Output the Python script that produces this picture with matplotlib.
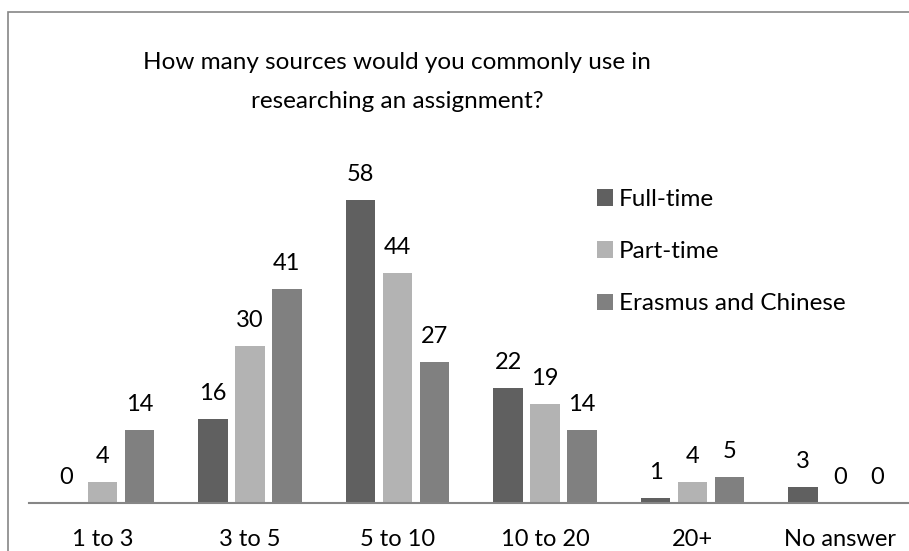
import numpy as np
import matplotlib
matplotlib.use("Agg")
from matplotlib import pyplot as plt
from matplotlib.patches import Rectangle

plt.rcParams['font.family'] = ['Lato', 'DejaVu Sans']

categories = ['1 to 3', '3 to 5', '5 to 10', '10 to 20', '20+', 'No answer']
series_names = ['Full-time', 'Part-time', 'Erasmus and Chinese']
full_time = [0, 16, 58, 22, 1, 3]
part_time = [4, 30, 44, 19, 4, 0]
erasmus = [14, 41, 27, 14, 5, 0]
colors = ['#606060', '#b3b3b3', '#808080']

W, H = 909, 551
fig = plt.figure(figsize=(W / 100, H / 100), dpi=100)
fig.patch.set_facecolor('white')

# outer chart frame (right/bottom edges fall outside the image)
fig.add_artist(Rectangle((8 / W, -0.1), 1.2, 1.1 - 12 / H, transform=fig.transFigure,
                         fill=False, edgecolor='#868686', linewidth=1.2))

# plot area in pixel terms: x 28.75 -> 913.75, baseline at y=503, 5.22 px per unit
left_px, cat_px = 28.75, 147.5
base_px, unit_px, ymax = 503, 5.22, 70
ax = fig.add_axes([left_px / W, (H - base_px) / H, 6 * cat_px / W, ymax * unit_px / H])

x = np.arange(len(categories))
offsets = [-0.25, 0, 0.25]
for vals, name, col, off in zip([full_time, part_time, erasmus], series_names, colors, offsets):
    ax.bar(x + off, vals, width=0.2, color=col, label=name, zorder=2)
    for xi, v in zip(x + off, vals):
        ax.annotate(str(v), (xi, v), xytext=(0, 19), textcoords='offset pixels',
                    ha='center', va='baseline', fontsize=17, color='black')

ax.set_xlim(-0.5, len(categories) - 0.5)
ax.set_ylim(0, ymax)
ax.set_xticks(x)
ax.set_xticklabels(categories, fontsize=17, va='baseline')
ax.tick_params(axis='x', length=0, pad=31)
ax.set_yticks([])
for s in ['top', 'right', 'left']:
    ax.spines[s].set_visible(False)
ax.spines['bottom'].set_color('#868686')
ax.spines['bottom'].set_linewidth(1.5)
ax.patch.set_alpha(0)

fig.text(397 / W, 1 - 69 / H, 'How many sources would you commonly use in',
         ha='center', va='baseline', fontsize=17.5)
fig.text(397 / W, 1 - 108 / H, 'researching an assignment?',
         ha='center', va='baseline', fontsize=17.5)

leg = ax.legend(loc='upper left', bbox_to_anchor=(597 / W, 1 - 189 / H),
                bbox_transform=fig.transFigure, frameon=False, fontsize=17.5,
                handlelength=0.66, handleheight=0.66, handletextpad=0.25,
                labelspacing=1.28, borderpad=0, borderaxespad=0)

fig.savefig('out.png', dpi=100)
